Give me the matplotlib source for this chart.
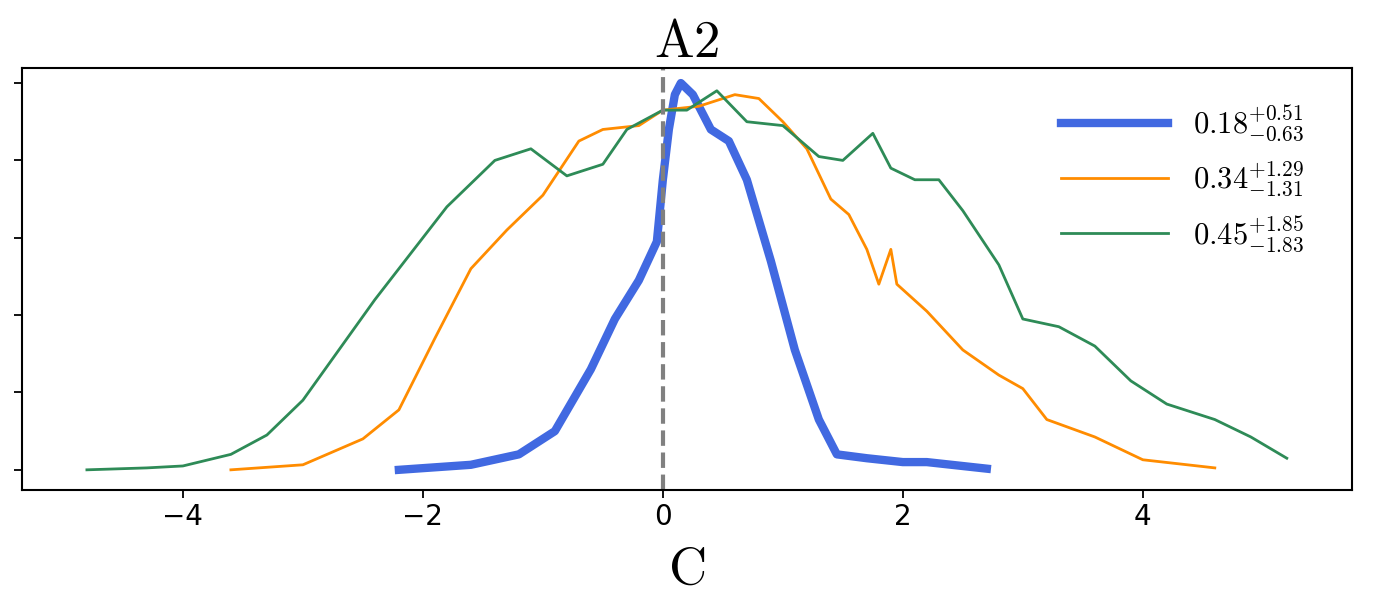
import numpy as np
import matplotlib.pyplot as plt

plt.rcParams['mathtext.fontset'] = 'cm'

# narrow posterior
blue_x = [-2.2, -1.6, -1.2, -0.9, -0.6, -0.4, -0.2, -0.05, 0.0, 0.05, 0.1, 0.15, 0.25, 0.4, 0.55, 0.7, 0.9, 1.1, 1.3, 1.45, 1.7, 2.0, 2.2, 2.7]
blue_y = [0.0, 0.013, 0.04, 0.10, 0.26, 0.39, 0.49, 0.59, 0.75, 0.88, 0.97, 1.0, 0.97, 0.88, 0.85, 0.75, 0.54, 0.31, 0.13, 0.04, 0.03, 0.02, 0.02, 0.003]

orange_x = [-3.6, -3.0, -2.5, -2.2, -1.9, -1.6, -1.3, -1.0, -0.7, -0.5, -0.2, 0.0, 0.3, 0.6, 0.8, 1.0, 1.2, 1.4, 1.55, 1.7, 1.8, 1.9, 1.95, 2.2, 2.5, 2.8, 3.0, 3.2, 3.6, 4.0, 4.6]
orange_y = [0.0, 0.013, 0.08, 0.155, 0.34, 0.52, 0.62, 0.71, 0.85, 0.88, 0.89, 0.93, 0.94, 0.97, 0.96, 0.90, 0.83, 0.70, 0.66, 0.57, 0.48, 0.57, 0.48, 0.41, 0.31, 0.245, 0.21, 0.13, 0.085, 0.026, 0.005]

green_x = [-4.8, -4.3, -4.0, -3.6, -3.3, -3.0, -2.7, -2.4, -2.1, -1.8, -1.4, -1.1, -0.8, -0.5, -0.3, 0.0, 0.2, 0.45, 0.7, 1.0, 1.3, 1.5, 1.75, 1.9, 2.1, 2.3, 2.5, 2.8, 3.0, 3.3, 3.6, 3.9, 4.2, 4.6, 4.9, 5.2]
green_y = [0.0, 0.005, 0.01, 0.04, 0.09, 0.18, 0.31, 0.44, 0.56, 0.68, 0.80, 0.83, 0.76, 0.79, 0.88, 0.93, 0.93, 0.98, 0.90, 0.89, 0.81, 0.80, 0.87, 0.78, 0.75, 0.75, 0.67, 0.53, 0.39, 0.37, 0.32, 0.23, 0.17, 0.13, 0.085, 0.03]

labels = [r'$0.18^{+0.51}_{-0.63}$', r'$0.34^{+1.29}_{-1.31}$', r'$0.45^{+1.85}_{-1.83}$']

fig = plt.figure(figsize=(13.82, 5.91), dpi=100)
ax = fig.add_axes([0.016, 0.171, 0.962, 0.714])

ax.plot(blue_x, blue_y, color='royalblue', lw=6, label=labels[0])
ax.plot(orange_x, orange_y, color='darkorange', lw=2, label=labels[1])
ax.plot(green_x, green_y, color='seagreen', lw=2, label=labels[2])
ax.axvline(0, color='grey', ls='--', lw=3)

ax.set_xlim(-5.34, 5.74)
ax.set_ylim(-0.052, 1.039)
ax.set_yticks([0, 0.2, 0.4, 0.6, 0.8, 1.0])
ax.set_yticklabels([])
for s in ax.spines.values():
    s.set_linewidth(1.5)
ax.tick_params(axis='x', labelsize=20, length=6, width=1.3)
ax.tick_params(axis='y', length=6, width=1.3)
ax.set_title(r'$\mathrm{A2}$', fontsize=38, pad=8)
ax.set_xlabel(r'$\mathrm{C}$', fontsize=38, labelpad=8)
ax.legend(loc='upper right', fontsize=22, frameon=False, handlelength=3.5,
          bbox_to_anchor=(0.985, 0.98))

fig.savefig('out.png')
